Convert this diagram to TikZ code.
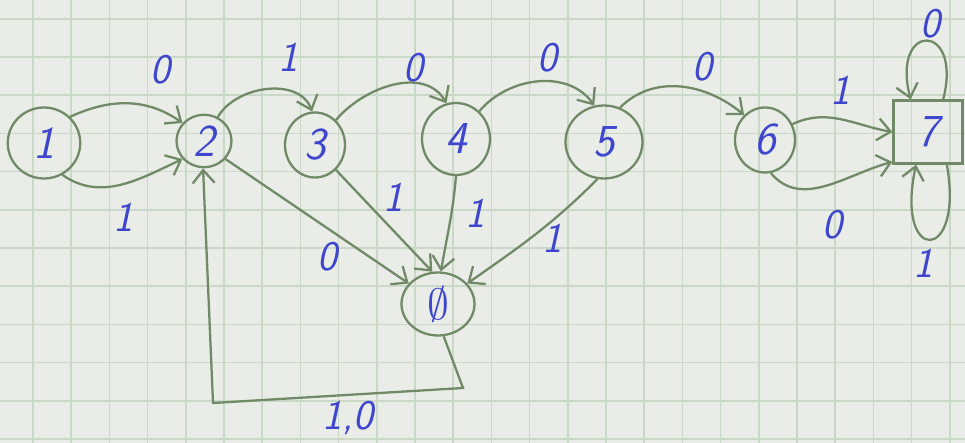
\documentclass[tikz,border=0pt]{standalone}
\usetikzlibrary{arrows.meta,shapes.geometric}
\definecolor{PencilGreen}{RGB}{112,138,104}
\definecolor{InkBlue}{RGB}{62,70,205}
\definecolor{PaperGray}{RGB}{234,236,232}
\definecolor{GridGreen}{RGB}{202,216,200}
\tikzset{
  state/.style={ellipse,draw=PencilGreen,line width=1.3pt,inner sep=0pt,
    text=InkBlue,font=\fontsize{26}{30}\selectfont\sffamily\itshape},
  finalbox/.style={rectangle,draw=PencilGreen,line width=1.3pt,inner sep=0pt,
    text=InkBlue,font=\fontsize{26}{30}\selectfont\sffamily\itshape,
    minimum width=1.38cm,minimum height=1.26cm},
  lbl/.style={text=InkBlue,font=\fontsize{24}{28}\selectfont\sffamily\itshape},
  arrow/.style={-{Straight Barb[length=2.6mm,width=4.4mm]},line width=1.3pt,PencilGreen}
}

\begin{document}
\begin{tikzpicture}[x=0.02cm,y=0.02cm]
  \useasboundingbox (0,0) rectangle (965,443);
  \fill[PaperGray] (0,0) rectangle (965,443);
  \foreach \i in {0,...,24} {
    \draw[GridGreen,line width=1pt] (33+38.2*\i,0) -- (33+38.2*\i,443);
  }
  \foreach \j in {0,...,11} {
    \draw[GridGreen,line width=1pt] (0,4+38.2*\j) -- (965,4+38.2*\j);
  }

  \node[state,minimum width=1.45cm,minimum height=1.42cm] (s1) at (44,300) {1};
  \node[state,minimum width=1.1cm,minimum height=1.05cm] (s2) at (204,302) {2};
  \node[state,minimum width=1.2cm,minimum height=1.3cm] (s3) at (315,298) {3};
  \node[state,minimum width=1.36cm,minimum height=1.44cm] (s4) at (456,304) {4};
  \node[state,minimum width=1.54cm,minimum height=1.46cm] (s5) at (604,301) {5};
  \node[state,minimum width=1.2cm,minimum height=1.3cm] (s6) at (765,303) {6};
  \node[finalbox] (s7) at (928,311) {7};
  \node[state,minimum width=1.46cm,minimum height=1.26cm] (sE) at (438,139) {$\emptyset$};
  \coordinate (c1) at (463,55);
  \coordinate (c2) at (213,40);

  \draw[arrow] (s1.45) to[out=25,in=145] (s2.140);
  \draw[arrow] (s1.-60) to[out=-35,in=-155] (s2.-140);
  \draw[arrow] (s2.60) to[out=60,in=110] (s3.95);
  \draw[arrow] (s3.50) to[out=50,in=120] (s4.105);
  \draw[arrow] (s4.50) to[out=50,in=125] (s5.105);
  \draw[arrow] (s5.65) to[out=45,in=140] (s6.130);
  \draw[arrow] (s6.30) to[out=25,in=170] (s7.west);
  \draw[arrow] (s6.-80) to[out=-50,in=-165] (s7.-140);
  \draw[arrow] (s7.65) .. controls +(20,78) and +(-20,78) .. (s7.118);
  \draw[arrow] (s7.-60) .. controls +(18,-100) and +(-22,-100) .. (s7.-110);
  \draw[arrow] (s2.-40) -- (sE.145);
  \draw[arrow] (s3.-50) -- (sE.100);
  \draw[arrow] (s4.-90) to[out=-95,in=80] (sE.85);
  \draw[arrow] (s5.-100) to[out=-135,in=35] (sE.35);
  \draw[arrow] (sE.-80) -- (c1) -- (c2) -- (s2.-92);

  \node[lbl] (l12a) at (160,373) {0};
  \node[lbl] (l12b) at (123,226) {1};
  \node[lbl] (l23) at (288,386) {1};
  \node[lbl] (l34) at (413,375) {0};
  \node[lbl] (l45) at (547,385) {0};
  \node[lbl] (l56) at (702,376) {0};
  \node[lbl] (l67a) at (840,353) {1};
  \node[lbl] (l67b) at (832,218) {0};
  \node[lbl] (l77a) at (930,419) {0};
  \node[lbl] (l77b) at (923,180) {1};
  \node[lbl] (l2E) at (327,186) {0};
  \node[lbl] (l3E) at (393,246) {1};
  \node[lbl] (l4E) at (475,230) {1};
  \node[lbl] (l5E) at (552,205) {1};
  \node[lbl] (lE2) at (348,25) {1,0};
\end{tikzpicture}
\end{document}
